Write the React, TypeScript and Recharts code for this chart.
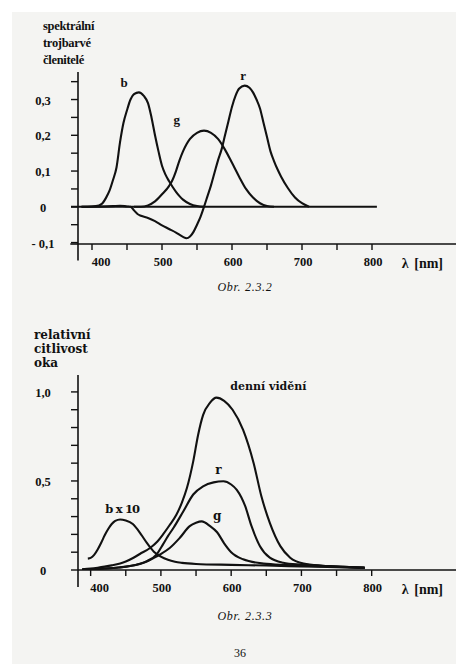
import { LineChart, Line, XAxis, YAxis, ReferenceLine, ReferenceDot } from 'recharts'

const SERIF = '"Liberation Serif", "DejaVu Serif", serif'
const WIDE = '"DejaVu Serif", "Liberation Serif", serif'
const INK = '#111111'

// x axis (both charts)
const lambdaTicks = [400, 450, 500, 550, 600, 650, 700, 750, 800]
const lambdaLabels = ['400', '', '500', '', '600', '', '700', '', '800']

// Obr. 2.3.2 - spektrální trojbarvé členitelé
const topYTicks = [-0.1, -0.05, 0, 0.05, 0.1, 0.15, 0.2, 0.25, 0.3, 0.35]
const topYLabels = ['- 0,1', '', '0', '', '0,1', '', '0,2', '', '0,3', '']

const bLambda = [385, 400, 410, 415, 420, 425, 430, 435, 440, 445, 450, 455, 460, 467, 474, 480, 485, 490, 495, 500, 505, 510, 515, 520, 525, 530, 540, 550, 560]
const bValue = [0, 0.001, 0.004, 0.01, 0.025, 0.045, 0.075, 0.11, 0.18, 0.235, 0.27, 0.3, 0.315, 0.32, 0.31, 0.29, 0.25, 0.2, 0.155, 0.115, 0.09, 0.072, 0.056, 0.042, 0.03, 0.02, 0.008, 0.002, 0]

const gLambda = [460, 470, 480, 490, 500, 510, 515, 520, 525, 530, 535, 540, 550, 560, 570, 580, 590, 600, 610, 620, 630, 640, 650, 660]
const gValue = [0, 0, 0.004, 0.015, 0.035, 0.058, 0.075, 0.1, 0.13, 0.155, 0.175, 0.19, 0.207, 0.213, 0.207, 0.19, 0.16, 0.123, 0.085, 0.05, 0.026, 0.01, 0.002, 0]

const rLambda = [385, 430, 440, 450, 455, 460, 465, 470, 480, 490, 500, 510, 520, 530, 535, 540, 545, 550, 555, 560, 565, 570, 575, 580, 585, 590, 595, 600, 605, 610, 618, 625, 630, 635, 640, 645, 650, 655, 660, 665, 670, 680, 690, 700, 710]
const rValue = [0, 0.002, 0.003, 0.001, 0, -0.01, -0.02, -0.025, -0.031, -0.04, -0.052, -0.062, -0.072, -0.084, -0.088, -0.083, -0.07, -0.05, -0.028, 0, 0.03, 0.06, 0.095, 0.13, 0.16, 0.2, 0.24, 0.28, 0.31, 0.33, 0.339, 0.333, 0.32, 0.3, 0.275, 0.235, 0.195, 0.155, 0.128, 0.105, 0.085, 0.052, 0.026, 0.01, 0]

// Obr. 2.3.3 - relativní citlivost oka
const bottomYTicks = [0, 0.1, 0.2, 0.3, 0.4, 0.5, 0.6, 0.7, 0.8, 0.9, 1.0]
const bottomYLabels = ['0', '', '', '', '', '0,5', '', '', '', '', '1,0']

const vLambda = [388, 400, 410, 420, 430, 442, 450, 461, 470, 485, 495, 503, 512, 522, 530, 537, 546, 553, 560, 570, 579, 590, 602, 617, 632, 643, 655, 670, 684, 703, 730, 760, 790]
const vValue = [0.004, 0.008, 0.013, 0.019, 0.026, 0.037, 0.048, 0.069, 0.09, 0.125, 0.16, 0.2, 0.25, 0.31, 0.38, 0.46, 0.61, 0.76, 0.87, 0.94, 0.968, 0.95, 0.9, 0.787, 0.6, 0.414, 0.265, 0.134, 0.069, 0.036, 0.024, 0.018, 0.012]

const r2Lambda = [388, 400, 420, 440, 456, 470, 480, 494, 503, 510, 518, 532, 546, 560, 575, 589, 600, 608, 620, 629, 641, 655, 674, 700, 740, 790]
const r2Value = [0.002, 0.004, 0.008, 0.014, 0.022, 0.035, 0.05, 0.088, 0.144, 0.19, 0.237, 0.33, 0.424, 0.47, 0.492, 0.498, 0.48, 0.45, 0.358, 0.246, 0.134, 0.069, 0.041, 0.03, 0.022, 0.013]

const g2Lambda = [388, 400, 420, 440, 456, 470, 480, 490, 499, 513, 527, 541, 550, 558, 570, 580, 590, 600, 617, 646, 680, 730, 790]
const g2Value = [0.002, 0.004, 0.008, 0.014, 0.022, 0.034, 0.048, 0.068, 0.088, 0.125, 0.181, 0.246, 0.265, 0.273, 0.246, 0.212, 0.15, 0.1, 0.06, 0.036, 0.028, 0.02, 0.013]

const b10Lambda = [396, 400, 405, 410, 415, 420, 425, 430, 435, 442, 450, 460, 470, 475, 480, 490, 500, 510, 520, 530, 550, 600, 650, 700, 750, 790]
const b10Value = [0.064, 0.068, 0.085, 0.115, 0.153, 0.195, 0.23, 0.258, 0.276, 0.284, 0.278, 0.258, 0.21, 0.181, 0.152, 0.103, 0.075, 0.057, 0.046, 0.04, 0.034, 0.029, 0.025, 0.02, 0.016, 0.012]

const zip = (l: number[], v: number[]) => l.map((x, i) => ({ l: x, v: v[i] }))

const tickText = { fontFamily: SERIF, fontWeight: 700, fontSize: 12.5, fill: INK }

const renderLambdaTick = (props: any) => {
  const { x, y, payload } = props
  const label = lambdaLabels[lambdaTicks.indexOf(payload.value)]
  if (!label) return <g />
  // the 400 label sits a bit right of its tick, clear of the y axis
  const dx = payload.value === 400 ? 9 : 1
  return (
    <text x={x + dx} y={y + 10} textAnchor="middle" dominantBaseline="central" {...tickText}>
      {label}
    </text>
  )
}

const yTick = (ticks: number[], labels: string[]) => (props: any) => {
  const { x, y, payload } = props
  const label = labels[ticks.findIndex((t) => Math.abs(t - payload.value) < 1e-6)]
  if (!label) return <g />
  return (
    <text x={x - 26} y={y + 1} textAnchor="middle" dominantBaseline="central" {...tickText}>
      {label}
    </text>
  )
}

const renderAxisTitle = (props: any) => {
  const vb = props.viewBox
  return (
    <text x={vb.x + vb.width - 13} y={vb.y + 19} textAnchor="end" dominantBaseline="central" {...tickText} fontSize={14} wordSpacing={2}>
      λ [nm]
    </text>
  )
}

const curveLabel = (value: string, font = SERIF, size = 13, spacing = 0) => ({
  value,
  position: 'center' as const,
  fill: INK,
  fontFamily: font,
  fontWeight: 700,
  fontSize: size,
  letterSpacing: spacing,
})

const lineProps = {
  dataKey: 'v',
  type: 'monotone' as const,
  stroke: INK,
  strokeWidth: 2.1,
  dot: false,
  activeDot: false,
  isAnimationActive: false,
}

const axisLine = { stroke: INK, strokeWidth: 1.6 }
const tickLine = { stroke: INK, strokeWidth: 1.4 }

function TristimulusChart() {
  return (
    <LineChart width={456} height={300} margin={{ top: 72, right: 0, bottom: 0, left: 0 }}>
      <XAxis
        type="number"
        dataKey="l"
        domain={[380, 920]}
        ticks={lambdaTicks}
        interval={0}
        tick={renderLambdaTick}
        tickSize={6}
        height={56}
        allowDataOverflow
        axisLine={axisLine}
        tickLine={tickLine}
        label={renderAxisTitle}
      />
      <YAxis
        type="number"
        domain={[-0.104, 0.377]}
        ticks={topYTicks}
        interval={0}
        tick={yTick(topYTicks, topYLabels)}
        tickSize={7}
        width={78}
        allowDataOverflow
        axisLine={axisLine}
        tickLine={tickLine}
      />
      <ReferenceLine segment={[{ x: 370, y: 0 }, { x: 807, y: 0 }]} stroke={INK} strokeWidth={2.1} ifOverflow="visible" />
      <ReferenceLine segment={[{ x: 369, y: -0.104 }, { x: 380, y: -0.104 }]} stroke={INK} strokeWidth={1.6} ifOverflow="visible" />
      <ReferenceLine segment={[{ x: 380, y: -0.104 }, { x: 380, y: -0.15 }]} stroke={INK} strokeWidth={1.6} ifOverflow="visible" />
      <Line {...lineProps} data={zip(bLambda, bValue)} />
      <Line {...lineProps} data={zip(gLambda, gValue)} />
      <Line {...lineProps} data={zip(rLambda, rValue)} />
      <ReferenceDot x={446} y={0.349} r={1} fill="none" stroke="none" label={curveLabel('b')} />
      <ReferenceDot x={521} y={0.244} r={1} fill="none" stroke="none" label={curveLabel('g')} />
      <ReferenceDot x={616} y={0.368} r={1} fill="none" stroke="none" label={curveLabel('r')} />
    </LineChart>
  )
}

function SensitivityChart() {
  return (
    <LineChart width={456} height={300} margin={{ top: 65, right: 0, bottom: 0, left: 0 }}>
      <XAxis
        type="number"
        dataKey="l"
        domain={[382, 920]}
        ticks={lambdaTicks}
        interval={0}
        tick={renderLambdaTick}
        tickSize={6}
        height={40}
        allowDataOverflow
        axisLine={axisLine}
        tickLine={tickLine}
        label={renderAxisTitle}
      />
      <YAxis
        type="number"
        domain={[0, 1.095]}
        ticks={bottomYTicks}
        interval={0}
        tick={yTick(bottomYTicks, bottomYLabels)}
        tickSize={7}
        width={78}
        allowDataOverflow
        axisLine={axisLine}
        tickLine={tickLine}
      />
      <ReferenceLine segment={[{ x: 382, y: 0 }, { x: 382, y: -0.095 }]} stroke={INK} strokeWidth={1.6} ifOverflow="visible" />
      <Line {...lineProps} data={zip(vLambda, vValue)} />
      <Line {...lineProps} data={zip(r2Lambda, r2Value)} />
      <Line {...lineProps} data={zip(g2Lambda, g2Value)} />
      <Line {...lineProps} data={zip(b10Lambda, b10Value)} />
      <ReferenceDot x={653} y={1.03} r={1} fill="none" stroke="none" label={curveLabel('denní vidění', WIDE, 11)} />
      <ReferenceDot x={582} y={0.563} r={1} fill="none" stroke="none" label={curveLabel('r', WIDE, 12)} />
      <ReferenceDot x={580} y={0.302} r={1} fill="none" stroke="none" label={curveLabel('g', WIDE, 12)} />
      <ReferenceDot x={445} y={0.345} r={1} fill="none" stroke="none" label={curveLabel('b x 10', WIDE, 11.5, -0.8)} />
    </LineChart>
  )
}

const textBlock = (extra: React.CSSProperties): React.CSSProperties => ({
  position: 'absolute',
  color: INK,
  whiteSpace: 'nowrap',
  ...extra,
})

export default function App() {
  return (
    <div style={{ position: 'absolute', left: 0, top: 0, width: 456, height: 664, background: '#ffffff', overflow: 'hidden' }}>
      <div style={{ position: 'absolute', left: 12, top: 12, right: 0, bottom: 0, background: '#f4f4f2' }} />

      <div style={textBlock({ left: 43, top: 18.4, fontFamily: SERIF, fontWeight: 700, fontSize: 12.5, lineHeight: '16.6px', letterSpacing: -0.3 })}>
        spektrální<br />trojbarvé<br />členitelé
      </div>
      <div style={{ position: 'absolute', left: 0, top: 0 }}>
        <TristimulusChart />
      </div>
      <div style={textBlock({ left: 145, width: 200, top: 279, textAlign: 'center', fontFamily: SERIF, fontStyle: 'italic', fontSize: 12, lineHeight: '16px', letterSpacing: 0.7 })}>
        Obr. 2.3.2
      </div>

      <div style={textBlock({ left: 34, top: 328, fontFamily: WIDE, fontWeight: 700, fontSize: 12, lineHeight: '14px' })}>
        relativní<br />citlivost<br />oka
      </div>
      <div style={{ position: 'absolute', left: 0, top: 310 }}>
        <SensitivityChart />
      </div>
      <div style={textBlock({ left: 145, width: 200, top: 607.7, textAlign: 'center', fontFamily: SERIF, fontStyle: 'italic', fontSize: 12, lineHeight: '16px', letterSpacing: 0.7 })}>
        Obr. 2.3.3
      </div>
      <div style={textBlock({ left: 190, width: 100, top: 644.7, textAlign: 'center', fontFamily: SERIF, fontSize: 12, lineHeight: '16px' })}>
        36
      </div>
    </div>
  )
}
